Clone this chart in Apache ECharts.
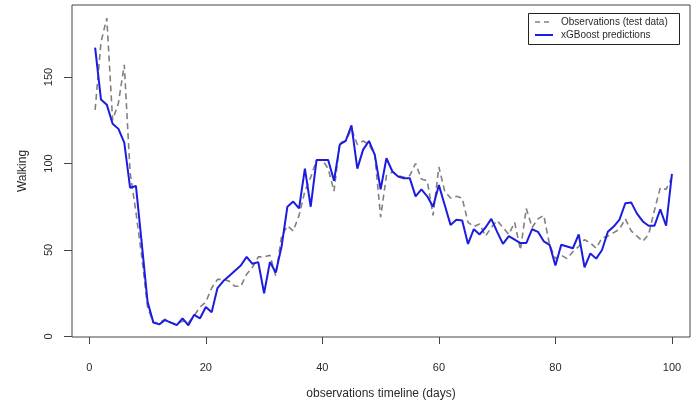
<!DOCTYPE html>
<html>
<head>
<meta charset="utf-8">
<script src="https://cdn.jsdelivr.net/npm/echarts@6/dist/echarts.min.js"></script>
<style>
html,body{margin:0;padding:0;background:#fff;}
#c{width:699px;height:406px;}
</style>
</head>
<body>
<div id="c"></div>
<script>
// Observations (test data), one per day 1..100
const observations = [131,170,184,125,135,157,95,72,46,17,
  8,8,10,8,7,9,8,12,17,20,
  28,33,33,32,29,29,36,40,46,46,
  47,35,58,64,61,70,84,92,102,102,
  97,84,112,113,120,111,113,111,105,69,
  93,95,93,92,93,100,91,90,70,98,
  84,80,81,80,66,63.5,65,58,63,67,
  63,59,66,50,74,63,68,70,53,45,
  47,45,49,52,56,54,51,57,58,60,
  62,68,61,58,55,59,73,86,85,92];
// xGBoost predictions
const predictions = [167,137,134,123,120,112,86,87,54,20,
  8,7,9.5,8,6.6,10.5,6.5,12.5,10.5,17,
  14,28,32,35,38,41,46,42,43,25,
  43,37,52,75,78,74,97,75,102,102,
  102,90,111,113,122,97,108,113,105,85,
  103,95.5,92.5,91.5,91.5,81,85,81,75,87.5,
  76,64.5,67.5,67,53.5,62,59,63,68,60.5,
  53.5,58,56,54,54,62,60.5,55,53,41,
  53,52,51,59,40,48,45,50,60.5,63.5,
  67.5,77,77.5,71,66.5,64,64,73.5,64,94];
const days = observations.map((_, i) => i + 1);
const xTicks = [0, 20, 40, 60, 80, 100];
const yTicks = [0, 50, 100, 150];
const seriesNames = ['Observations (test data)', 'xGBoost predictions'];

const obsData = days.map((d, i) => [d, observations[i]]);
const predData = days.map((d, i) => [d, predictions[i]]);

const OBS_COLOR = '#808080';
const PRED_COLOR = '#1c1ce0';
const txt = '#2a2a2a';
const font = '"Liberation Sans", Arial, sans-serif';

const chart = echarts.init(document.getElementById('c'), null, {renderer: 'canvas'});
chart.setOption({
  animation: false,
  backgroundColor: '#fff',
  textStyle: {fontFamily: font},
  grid: {left: 72, top: 5, right: 9, bottom: 69, show: true, borderColor: '#444', borderWidth: 1, backgroundColor: 'transparent'},
  xAxis: {
    type: 'value', min: -2.97, max: 103.1,
    name: 'observations timeline (days)', nameLocation: 'middle', nameGap: 51,
    nameTextStyle: {fontSize: 12, color: txt, fontFamily: font},
    splitLine: {show: false},
    axisLine: {show: false, onZero: false},
    axisTick: {show: true, length: 7, customValues: xTicks, lineStyle: {color: '#444'}},
    axisLabel: {customValues: xTicks, margin: 25, fontSize: 11, color: txt, fontFamily: font}
  },
  yAxis: {
    type: 'value', min: -0.3, max: 191.6,
    name: 'Walking', nameLocation: 'middle', nameGap: 43,
    nameTextStyle: {fontSize: 12, color: txt, fontFamily: font},
    splitLine: {show: false},
    axisLine: {show: false, onZero: false},
    axisTick: {show: true, length: 8, customValues: yTicks, lineStyle: {color: '#444'}},
    axisLabel: {customValues: yTicks, rotate: 90, margin: 18, fontSize: 11, color: txt, fontFamily: font}
  },
  graphic: [
    {type: 'rect', shape: {x: 528.5, y: 13.5, width: 151, height: 31}, style: {fill: '#fff', stroke: '#222', lineWidth: 1}, z: 10},
    {type: 'line', shape: {x1: 535, y1: 22, x2: 553, y2: 22}, style: {stroke: OBS_COLOR, lineWidth: 1.6, lineDash: [5, 4]}, z: 11},
    {type: 'line', shape: {x1: 535, y1: 35, x2: 553, y2: 35}, style: {stroke: PRED_COLOR, lineWidth: 2}, z: 11},
    {type: 'text', x: 561, y: 22, style: {text: seriesNames[0], fill: txt, font: '10px ' + font, textVerticalAlign: 'middle'}, z: 11},
    {type: 'text', x: 561, y: 35, style: {text: seriesNames[1], fill: txt, font: '10px ' + font, textVerticalAlign: 'middle'}, z: 11}
  ],
  series: [
    {
      name: seriesNames[0], type: 'line', data: obsData,
      symbol: 'none', z: 2,
      lineStyle: {color: OBS_COLOR, width: 1.6, type: [6, 4]},
      itemStyle: {color: OBS_COLOR}
    },
    {
      name: seriesNames[1], type: 'line', data: predData,
      symbol: 'none', z: 3,
      lineStyle: {color: PRED_COLOR, width: 2},
      itemStyle: {color: PRED_COLOR}
    }
  ]
});
</script>
</body>
</html>
